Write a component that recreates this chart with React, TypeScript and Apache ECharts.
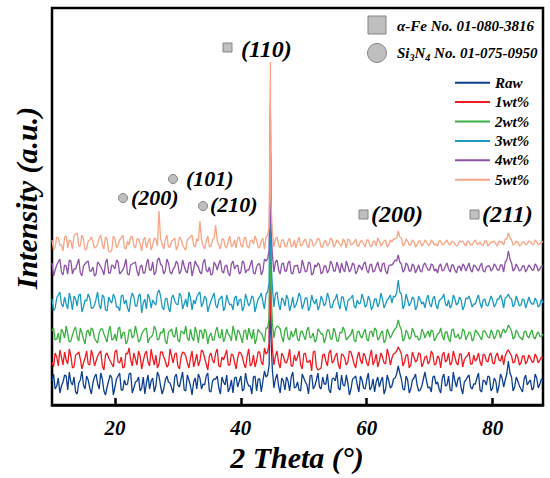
import React, { useEffect, useRef } from "react";
import * as echarts from "echarts";

// 2θ grid of the scans: readings at 10°, 10.5°, ... (A) and 10.25°, 10.75°, ... (B)
const THETA_START = 10;
const THETA_STEP = 0.5;

const seriesNames = ["Raw", "1wt%", "2wt%", "3wt%", "4wt%", "5wt%"];
const seriesColors = ["#0d3f91", "#f01a22", "#3cb043", "#1b9bc2", "#8e52a8", "#f9a586"];
// vertical stacking offsets (a.u.)
const offsets = [22, 46, 70, 103, 137, 162];
// α-Fe (110) main peak: position and height above baseline
const mainPeakX = [44.72, 44.7, 44.71, 44.7, 44.69, 44.7];
const mainPeakH = [230, 175, 200, 185, 165, 181];

const rawA = [
  2, -6, 5, -3, 8, -7, 1, 6, -11, 3, -2, 7, -5, 0, 9, -6, 4, -12, 2, 5,
  -4, 7, -7, 3, -1, 10, -5, 2, -8, 6, 0, -6, 5, -3, 7, -11, 3, 1, -5, 6,
  -2, 4, -7, 8, -3, 1, -6, 5, -1, 7, -8, 2, 4, -5, 6, -2, -9, 3, 5, -4,
  7, -6, 1, -3, 6, -8, 4, 2, 6, 18, 14, 4, -3, 5, -7, 2, 6, -5, 1, -8,
  5, -2, 7, -6, 3, -4, 6, -1, -7, 4, 2, -5, 8, -3, 0, -6, 5, -2, 7, -5,
  3, -7, 4, 1, -4, 6, -6, 2, -3, 5, 17, 4, -7, 3, -6, 5, -2, -7, 4, 2,
  -4, 6, -1, -6, 5, -3, 7, -8, 2, 4, -5, 1, 6, -4, -1, 5, -7, 3, -2, 6,
  -5, 2, -3, 5, 3, 22, 6, -4, 2, -6, 4, -2, 3, -5, 5, -1, 2,
];
const rawB = [
  9, -3, -10, 1, 7, 11, -2, -9, 0, 12, -6, 3, -11, 6, -1, 10, -8, -4, 8, -12,
  4, 10, -7, -2, 9, -10, 1, 6, -5, -11, 8, 2, -9, 11, -3, -6, 7, 0, -10, 9,
  -4, 11, -8, 3, -12, 5, 9, -6, -2, 10, -9, 4, 7, -11, 1, 8, -5, -10, 6, 2,
  -8, 10, -3, -11, 7, 4, -9, 12, 8, 50, -5, 9, -10, 2, 6, -8, 11, -4, -7, 9,
  1, -11, 8, -3, 10, -6, -1, 9, -10, 5, 11, -7, -2, 8, -12, 4, 7, -9, 3, -6,
  10, -4, -9, 6, 2, -11, 8, -5, 4, 9, 10, -6, 7, -10, 3, 9, -8, -3, 11, -5,
  -9, 7, 1, -10, 9, -2, -7, 11, -4, 6, -11, 3, 8, -6, -1, 10, -9, 2, 7, -8,
  5, -10, 9, -4, 9, 10, -8, 6, -3, -9, 8, 1, -7, 9, -5, 4,
];
const wt1A = [
  -3, 6, -7, 2, 7, -5, 3, -8, 5, 0, -4, 8, -6, 3, -2, 6, -7, 4, 1, -5,
  7, -3, 2, -8, 5, -1, 6, -6, 3, -2, 8, -7, 1, 4, -5, 7, -2, -6, 3, 5,
  -7, 2, 6, -4, 1, -8, 5, -2, 7, -5, 3, -1, 6, -7, 2, 4, -6, 5, -3, 1,
  6, -5, 3, -7, 4, -2, 7, -6, 5, 16, 12, 3, -4, 6, -3, 1, -7, 4, 2, -6,
  5, -3, -1, 7, -8, -10, 4, -2, 6, -4, 3, -6, 5, 1, -3, 7, -5, 2, -1, 6,
  -4, 3, -6, 5, -2, 2, -5, 4, 1, 6, 12, 5, -3, 4, -6, 2, -1, 5, -4, 3,
  -2, 5, -5, 1, 4, -3, 6, -4, 2, -6, 5, -1, 3, -5, 4, 0, -3, 5, -2, 4,
  -4, 3, -1, 4, 3, 9, 3, -3, 2, -4, 3, -2, 1, -3, 2, -1, 1,
];
const wt1B = [
  -8, 2, 9, -6, -1, 10, -9, 4, 7, -10, 1, -5, 9, -7, 3, 8, -11, 6, -2, -8,
  9, -4, -9, 6, 11, -7, 0, 8, -10, 5, -3, 10, -6, -9, 7, 2, -8, 10, -4, 6,
  -10, 7, 3, -9, 8, -2, -7, 9, 1, -11, 6, -4, 10, -8, -1, 9, -6, 4, -10, 7,
  2, -9, 10, -5, -8, 7, -3, 11, 7, 45, -6, 8, -9, 3, -4, 10, -7, -2, 8, -10,
  6, -3, -12, 8, -11, -9, 5, -7, 9, -2, 6, -10, 4, -6, 8, 1, -9, 7, -5, 3,
  -7, 9, -2, -8, 6, -4, 10, -6, 5, 8, 9, -7, 4, -9, 7, -3, 6, -8, 2, -5,
  8, -6, 3, -9, 7, -1, -6, 8, -4, 5, -8, 2, 7, -5, -2, 6, -7, 4, -3, 6,
  -5, 6, -2, -6, 7, 6, -4, 5, -6, 3, -5, 4, -3, 5, -4, 2,
];
const wt2A = [
  4, -5, 2, 6, -3, 1, -6, 5, -2, 7, -4, 3, -1, 5, -6, 2, 6, -3, 4, -5,
  1, 6, -4, 3, -6, 5, -1, 2, -5, 4, 7, -3, 0, 5, -4, 2, -6, 3, 6, -2,
  -5, 4, 1, -3, 6, -6, 2, 5, -4, 3, -1, -5, 4, -2, 6, -3, 1, -6, 3, 5,
  -2, 4, -5, 1, 6, -4, 3, -2, 7, 17, 13, 6, 8, -2, 5, -3, 4, 1, -4, 3,
  -1, 5, -3, 2, -5, 4, 1, -2, 5, -4, 3, -6, 2, 4, -3, 1, -5, 3, -1, 2,
  -4, 3, -2, 5, -3, 4, -5, 2, 0, 6, 15, 5, -4, 2, -3, 3, -1, -4, 3, 1,
  -2, 4, -3, 2, -1, 3, -4, 5, -2, 1, -3, 4, -1, 2, -4, 3, -2, 4, 1, -3,
  2, -1, 4, 3, 2, 10, 4, -2, 2, -3, 3, -1, 2, -2, 1, -1, 1,
];
const wt2B = [
  7, -4, -8, 3, 9, -7, 0, 8, -6, 2, -9, 5, 7, -3, -8, 6, 1, -7, 9, -4,
  -6, 8, 2, -9, 5, -3, 9, -7, 1, 6, -8, -2, 9, -5, 3, 7, -9, 4, -1, 8,
  -7, 3, 9, -6, -2, 8, -8, 4, 6, -9, 2, -5, 8, -3, -7, 6, -1, 9, -6, 3,
  -8, 5, 7, -4, -9, 6, 2, -7, 7, 52, -3, 9, 6, -7, 8, -5, -2, 7, -6, 4,
  -5, 8, -2, -7, 6, 1, -8, 5, -4, 7, -6, 3, 8, -5, -1, 6, -7, 4, -3, 6,
  -6, 4, 7, -5, 2, -8, 6, -3, 4, 8, 9, -6, 5, -4, 7, -2, -5, 6, -3, 4,
  5, -6, 1, 7, -5, 3, -7, 6, -2, -4, 6, -5, 3, -6, 5, 1, -5, 4, -2, 5,
  -4, 5, -3, 6, 5, 7, -4, 5, -2, -5, 4, -3, 5, -4, 3, -2,
];
const wt3A = [
  3, -6, 7, -2, 5, -7, 2, 6, -4, 8, -5, 1, 4, -6, 3, -3, 7, -8, 5, -1,
  4, -5, 6, -2, -6, 3, 5, -4, 8, -1, -7, 4, 2, -3, 12, -5, 3, -6, 4, 1,
  -3, 6, -2, -5, 4, 2, 5, 10, -1, 3, -4, 5, -3, 2, 6, -5, 1, -2, 4, -4,
  3, -5, 2, -1, 4, -3, 5, 0, 8, 20, 16, 8, -2, 4, -4, 3, -3, -6, 2, 5,
  -2, 4, -5, 1, 3, -4, 2, -1, 4, -5, 3, -2, 5, -3, 1, 4, -4, 2, -1, 3,
  -3, 2, -4, 3, -1, 3, -2, 4, -1, 5, 22, 8, -3, 2, -1, 3, -4, 2, 0, 3,
  -2, 3, -3, 1, 4, -2, 2, -3, 3, -1, 2, -4, 3, 1, -2, 3, -1, 2, -3, 1,
  2, -2, 3, 2, 4, 8, 3, -2, 1, -3, 2, -1, 0, -2, 1, -3, -1,
];
const wt3B = [
  -9, 4, 10, -5, -2, 9, -8, 3, 7, -10, 2, 8, -6, -3, 10, -7, 5, -9, 1, 8,
  -5, -9, 7, 2, -10, 9, -4, 6, -11, 3, 8, -6, -1, 9, 6, -8, 4, -10, 7, -2,
  9, -7, 3, 10, -8, -2, 8, -5, 6, -10, 1, 9, -6, 4, -9, 7, -3, -8, 6, 2,
  -9, 8, -4, 6, -10, 3, 9, -7, 10, 48, -5, 10, -8, 2, 7, -9, 5, -3, 9, -7,
  4, -9, 7, -2, -8, 6, -4, 9, -6, 1, 8, -7, 5, -9, 3, 7, -6, -2, 8, -5,
  6, -8, 3, -5, 9, -6, 2, 7, 6, 9, 10, -7, 8, -4, 5, -8, 6, -2, -6, 7,
  -5, 6, -7, 3, 8, -4, -6, 7, -3, 5, -8, 4, 6, -5, -2, 7, -6, 3, -4, 6,
  -5, 3, 7, -6, 5, 4, -5, 6, -4, 3, -6, 5, -2, 4, -5, 3,
];
const wt4A = [
  5, -2, 6, -4, 3, -6, 7, -1, 4, -5, 2, 6, -3, 1, -6, 4, -2, 5, -5, 3,
  -1, 6, -4, 2, -6, 3, 5, -3, 1, -5, 4, -2, 6, -4, 10, 2, -3, 5, -6, 1,
  4, -3, 2, -5, 6, -1, 3, -4, 5, -2, 1, -6, 3, 4, -3, 2, -5, 4, -1, 3,
  -4, 5, -2, 3, -5, 1, 4, -3, 7, 18, 14, 6, -2, 4, -3, 5, -5, 2, 3, -4,
  2, -3, 5, -5, 1, 3, -4, 2, -2, 4, -3, 1, 5, -4, 2, -1, 3, -3, 1, 4,
  -2, 3, -4, 2, -1, 4, -3, 2, 3, 8, 13, 4, -2, 3, -3, 2, -1, -3, 3, 1,
  -2, 3, -1, 2, -3, 2, -1, 3, -2, 1, -3, 2, 1, -2, 3, -1, 2, -3, 1, 2,
  -1, 2, -2, 3, 6, 17, 5, -1, 1, -2, 2, -1, 1, -2, 2, -1, 1,
];
const wt4B = [
  -8, 3, 9, -7, 2, 8, -6, -1, 9, -8, 4, 7, -3, -8, 6, 1, -7, 9, -5, 2,
  8, -6, -2, 9, -7, 4, 6, -8, 3, -5, 9, -2, -7, 8, 4, -6, 9, -4, -1, 7,
  -6, 8, -3, 5, -8, 7, 1, -6, 9, -4, -7, 6, -2, 8, -5, 3, -8, 7, 2, -6,
  7, -5, -2, 8, -6, 4, -7, 9, 9, 46, -4, 8, -6, 5, -3, 7, -6, 2, -5, 8,
  -4, 6, -7, 3, 5, -6, 2, -5, 7, -3, 6, -5, -1, 7, -4, 5, -6, 3, -2, 6,
  -5, 4, -3, 6, -4, 5, -6, 3, 5, 7, 6, -4, 5, -3, 4, -5, 3, -4, 5, -2,
  4, -3, -5, 4, -2, 5, -4, 3, -5, 2, 4, -3, 5, -4, 2, -3, 5, -4, 2, -3,
  4, -2, 3, -4, 8, 9, -3, 4, -3, 2, -4, 3, -2, 4, -3, 2,
];
const wt5A = [
  3, -4, 5, -2, 6, -5, 2, 7, 10, -3, 4, -6, 3, 1, -4, 5, -2, 6, -8, -7,
  4, -2, 5, -5, 2, 6, -3, 4, -1, 3, -5, 5, -2, 4, 32, -1, 3, -4, 2, 5,
  -3, 4, -5, 3, 6, -2, 4, 22, -3, 2, -4, 3, 18, -2, 4, -3, 2, -4, 3, 5,
  -2, 4, -3, 2, -1, 3, -4, 5, 6, 16, 12, 4, -2, 3, -3, 2, -4, 3, 1, -3,
  2, -2, 4, -3, 1, 3, -4, 2, -1, 3, -2, 1, -3, 2, 4, -2, 1, -3, 2, -1,
  3, -2, 1, -3, 2, -1, 3, -2, 1, 4, 12, 5, -1, 2, -2, 1, -2, 2, -1, 1,
  -2, 1, -1, 2, -2, 1, -1, 2, -1, -2, 1, -1, 2, -2, 1, -1, 1, -2, 2, -1,
  1, -1, 2, 1, 4, 10, 3, -1, 1, -2, 1, -1, 1, -2, 1, -1, 1,
];
const wt5B = [
  -7, 6, -2, -8, 7, 3, -6, 9, -3, 8, -7, 2, 6, -5, -1, 8, -6, 4, -9, 7,
  -5, 3, 8, -6, -2, 7, -5, 4, -8, 6, 1, -7, 5, -3, 4, -6, 8, -4, 3, -7,
  6, -2, -7, 5, 8, -4, 2, 3, -6, 7, -3, 5, 2, -6, 4, -5, 7, -2, -5, 6,
  -4, 6, -5, 3, 7, -5, 2, -6, 8, 44, -4, 6, -5, 3, -4, 5, -3, -5, 6, -2,
  4, -5, 3, -2, 5, -4, 2, -3, 5, -4, 3, -2, 4, -5, 3, -1, 4, -3, 2, -4,
  3, -4, 2, 5, -3, 2, -4, 3, 4, 5, 6, -3, 4, -2, 3, -4, 2, -3, 3, -2,
  3, -2, -3, 2, -1, 3, -2, 1, -3, 2, 2, -3, 1, -2, 3, -1, -2, 2, -3, 1,
  2, -3, 1, -2, 4, 5, -2, 2, -3, 1, -2, 2, -1, 3, -2, 1,
];
const scansA = [rawA, wt1A, wt2A, wt3A, wt4A, wt5A];
const scansB = [rawB, wt1B, wt2B, wt3B, wt4B, wt5B];

const xTicks = [20, 40, 60, 80];

const FONT = "Liberation Serif, serif";

function buildSeriesData(a: number[], b: number[], offset: number, px: number, ph: number) {
  const pts: number[][] = [];
  a.forEach((v, i) => pts.push([THETA_START + THETA_STEP * i, offset + v]));
  b.forEach((v, j) => pts.push([THETA_START + THETA_STEP / 2 + THETA_STEP * j, offset + v]));
  pts.push([px, offset + ph]);
  pts.sort((p, q) => p[0] - q[0]);
  return pts;
}

const markerStyle = { fill: "#bfbfbf", stroke: "#858585", lineWidth: 1 };
const annFont = (size: number) => ({
  fontFamily: FONT,
  fontWeight: "bold" as const,
  fontStyle: "italic" as const,
  fontSize: size,
  fill: "#000",
});

export default function App() {
  const ref = useRef<HTMLDivElement>(null);
  useEffect(() => {
    if (!ref.current) return;
    const chart = echarts.init(ref.current, undefined, { renderer: "svg" });
    const series = seriesNames.map((name, k) => ({
      name,
      type: "line",
      data: buildSeriesData(scansA[k], scansB[k], offsets[k], mainPeakX[k], mainPeakH[k]),
      symbol: "none",
      lineStyle: { color: seriesColors[k], width: 1.3 },
      itemStyle: { color: seriesColors[k] },
    }));
    chart.setOption({
      animation: false,
      grid: {
        left: 52,
        right: 7,
        top: 8,
        bottom: 73,
        show: true,
        borderColor: "#000",
        borderWidth: 2.5,
        containLabel: false,
      },
      xAxis: {
        type: "value",
        min: 10,
        max: 88,
        axisLine: { show: true, lineStyle: { color: "#000", width: 2.5 } },
        axisTick: {
          show: true,
          inside: true,
          length: 7,
          customValues: xTicks,
          lineStyle: { color: "#000", width: 2.5 },
        },
        axisLabel: {
          customValues: xTicks,
          margin: 12,
          color: "#000",
          fontFamily: FONT,
          fontWeight: "bold",
          fontStyle: "italic",
          fontSize: 21,
        },
        splitLine: { show: false },
      },
      yAxis: {
        type: "value",
        min: 0,
        max: 397,
        axisLine: { show: false },
        axisTick: { show: false },
        axisLabel: { show: false },
        splitLine: { show: false },
      },
      legend: {
        data: seriesNames,
        orient: "vertical",
        left: 450,
        top: 68,
        icon: "rect",
        itemWidth: 35,
        itemHeight: 2,
        itemGap: 0,
        textStyle: {
          color: "#000",
          fontFamily: FONT,
          fontWeight: "bold",
          fontStyle: "italic",
          fontSize: 15,
          lineHeight: 19.4,
        },
      },
      series,
      graphic: [
        { type: "rect", shape: { x: 368, y: 16, width: 18, height: 18 }, style: markerStyle },
        { type: "circle", shape: { cx: 377, cy: 53, r: 9.5 }, style: markerStyle },
        {
          type: "text",
          x: 397,
          y: 26,
          style: { text: "α-Fe No. 01-080-3816", ...annFont(15), verticalAlign: "middle" },
        },
        {
          type: "text",
          x: 397,
          y: 53,
          style: {
            text: "{n|Si}{s|3}{n|N}{s|4}{n| No. 01-075-0950}",
            verticalAlign: "middle",
            ...annFont(15),
            rich: {
              n: { ...annFont(15) },
              s: { ...annFont(10), padding: [9, 0, 0, 0] },
            },
          },
        },
        { type: "text", x: 26, y: 198, rotation: Math.PI / 2, style: { text: "Intensity (a.u.)", ...annFont(30), align: "center", verticalAlign: "middle" } },
        { type: "text", x: 297, y: 457, style: { text: "2 Theta (°)", ...annFont(30), align: "center", verticalAlign: "middle" } },
        { type: "rect", shape: { x: 223, y: 43, width: 9, height: 9 }, style: markerStyle },
        { type: "text", x: 241, y: 49, style: { text: "(110)", ...annFont(24), verticalAlign: "middle" } },
        { type: "rect", shape: { x: 359, y: 210, width: 9, height: 9 }, style: markerStyle },
        { type: "text", x: 371, y: 214, style: { text: "(200)", ...annFont(24), verticalAlign: "middle" } },
        { type: "rect", shape: { x: 470, y: 210, width: 9, height: 9 }, style: markerStyle },
        { type: "text", x: 482, y: 214, style: { text: "(211)", ...annFont(24), verticalAlign: "middle" } },
        { type: "circle", shape: { cx: 123, cy: 198, r: 4.5 }, style: markerStyle },
        { type: "text", x: 131, y: 197, style: { text: "(200)", ...annFont(22), verticalAlign: "middle" } },
        { type: "circle", shape: { cx: 173, cy: 179, r: 4.5 }, style: markerStyle },
        { type: "text", x: 186, y: 178, style: { text: "(101)", ...annFont(22), verticalAlign: "middle" } },
        { type: "circle", shape: { cx: 203, cy: 206, r: 4.5 }, style: markerStyle },
        { type: "text", x: 210, y: 204, style: { text: "(210)", ...annFont(22), verticalAlign: "middle" } },
      ],
    });
    return () => chart.dispose();
  }, []);
  return (
    <div
      ref={ref}
      style={{ position: "fixed", left: 0, top: 0, width: 550, height: 478, background: "#fff" }}
    />
  );
}
